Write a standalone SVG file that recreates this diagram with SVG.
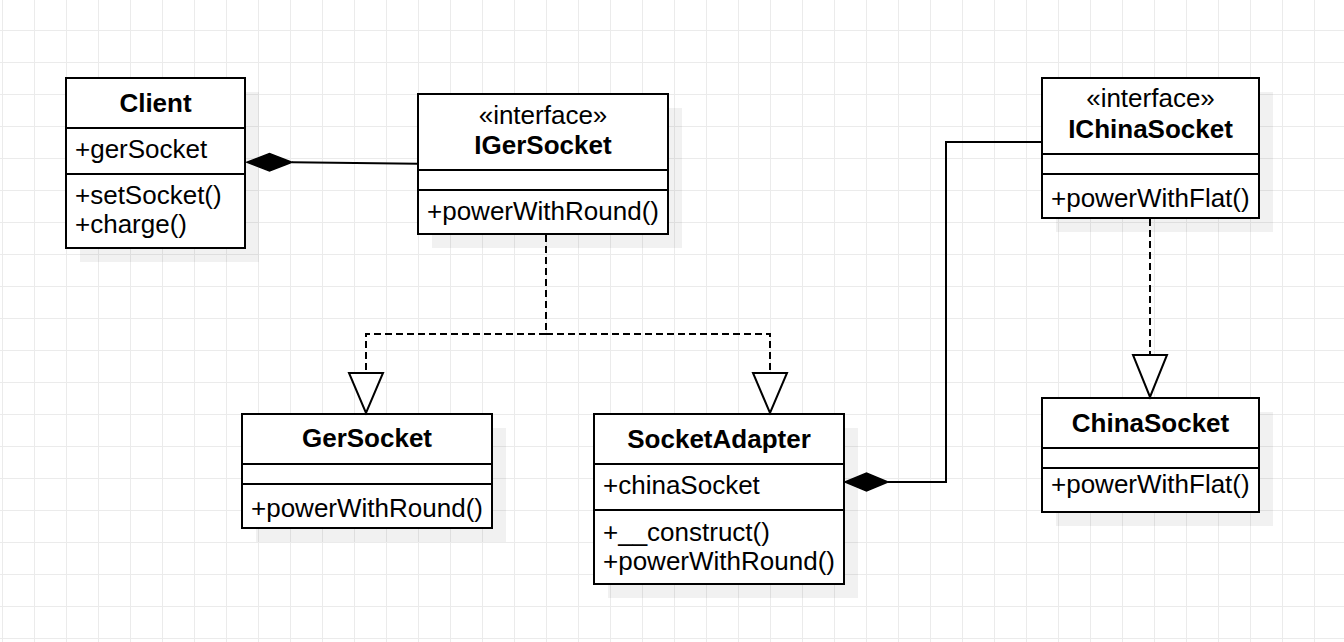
<svg xmlns="http://www.w3.org/2000/svg" width="1344" height="642" viewBox="0 0 1344 642">
<style>
.box{fill:#fff;stroke:#000;stroke-width:2}
.sh{fill:#000;fill-opacity:0.055}
.div{stroke:#000;stroke-width:2;fill:none}
.t{font-family:"Liberation Sans",Arial,sans-serif;font-size:26px;fill:#000}
.b{font-weight:bold;text-anchor:middle}
.c{text-anchor:middle}
.ln{fill:none;stroke:#000;stroke-width:2}
.dash{fill:none;stroke:#000;stroke-width:2;stroke-dasharray:7 4}
.tri{fill:#fff;stroke:#000;stroke-width:2;stroke-linejoin:miter}
.dia{fill:#000;stroke:#000;stroke-width:1.5}
</style>
<defs>
<pattern id="grid" x="2" y="30" width="32" height="32" patternUnits="userSpaceOnUse">
<path d="M0.5 0V32M0 0.5H32" stroke="#ebebeb" stroke-width="1" fill="none"/>
</pattern>
</defs>
<rect width="1344" height="642" fill="#fff"/>
<rect width="1344" height="642" fill="url(#grid)"/>

<g id="Client">
<rect class="sh" x="80" y="92" width="179" height="170"/>
<rect class="box" x="66" y="78" width="179" height="170"/>
<path class="div" d="M66 128H245M66 174H245"/>
<text class="t b" x="155.5" y="112">Client</text>
<text class="t" x="75" y="158">+gerSocket</text>
<text class="t" x="75" y="204">+setSocket()</text>
<text class="t" x="75" y="233">+charge()</text>
</g>

<g id="IGerSocket">
<rect class="sh" x="432" y="108" width="250" height="140"/>
<rect class="box" x="418" y="94" width="250" height="140"/>
<path class="div" d="M418 170H668M418 190H668"/>
<text class="t c" x="543" y="124">«interface»</text>
<text class="t b" x="543" y="154">IGerSocket</text>
<text class="t" x="427" y="220" textLength="232" lengthAdjust="spacingAndGlyphs">+powerWithRound()</text>
</g>

<g id="IChinaSocket">
<rect class="sh" x="1056" y="92" width="217" height="140"/>
<rect class="box" x="1042" y="78" width="217" height="140"/>
<path class="div" d="M1042 154H1259M1042 174H1259"/>
<text class="t c" x="1150.5" y="107">«interface»</text>
<text class="t b" x="1150.5" y="138">IChinaSocket</text>
<text class="t" x="1051" y="207">+powerWithFlat()</text>
</g>

<g id="GerSocket">
<rect class="sh" x="256" y="428" width="250" height="114"/>
<rect class="box" x="242" y="414" width="250" height="114"/>
<path class="div" d="M242 464H492M242 484H492"/>
<text class="t b" x="367" y="447">GerSocket</text>
<text class="t" x="251" y="517" textLength="232" lengthAdjust="spacingAndGlyphs">+powerWithRound()</text>
</g>

<g id="SocketAdapter">
<rect class="sh" x="608" y="428" width="250" height="170"/>
<rect class="box" x="594" y="414" width="250" height="170"/>
<path class="div" d="M594 464H844M594 510H844"/>
<text class="t b" x="719" y="448">SocketAdapter</text>
<text class="t" x="603" y="494">+chinaSocket</text>
<text class="t" x="603" y="541">+__construct()</text>
<text class="t" x="603" y="570" textLength="232" lengthAdjust="spacingAndGlyphs">+powerWithRound()</text>
</g>

<g id="ChinaSocket">
<rect class="sh" x="1056" y="412" width="217" height="114"/>
<rect class="box" x="1042" y="398" width="217" height="114"/>
<path class="div" d="M1042 448H1259M1042 468H1259"/>
<text class="t b" x="1150.5" y="432">ChinaSocket</text>
<text class="t" x="1051" y="493">+powerWithFlat()</text>
</g>

<g id="connectors">
<path class="ln" d="M292 162.3L418 163.7"/>
<polygon class="dia" points="247,162.3 269.5,153.5 292,162.3 269.5,171"/>
<path class="dash" d="M546 235V334H366V373"/>
<polygon class="tri" points="349,373 383,373 366,413"/>
<path class="dash" d="M546 334H770V373"/>
<polygon class="tri" points="753,373 787,373 770,413"/>
<path class="dash" d="M1150 219V355"/>
<polygon class="tri" points="1133,355 1167,355 1150,397"/>
<path class="ln" d="M888 482H946V142H1042"/>
<polygon class="dia" points="845,482 866.5,473 888,482 866.5,491"/>
</g>
</svg>
